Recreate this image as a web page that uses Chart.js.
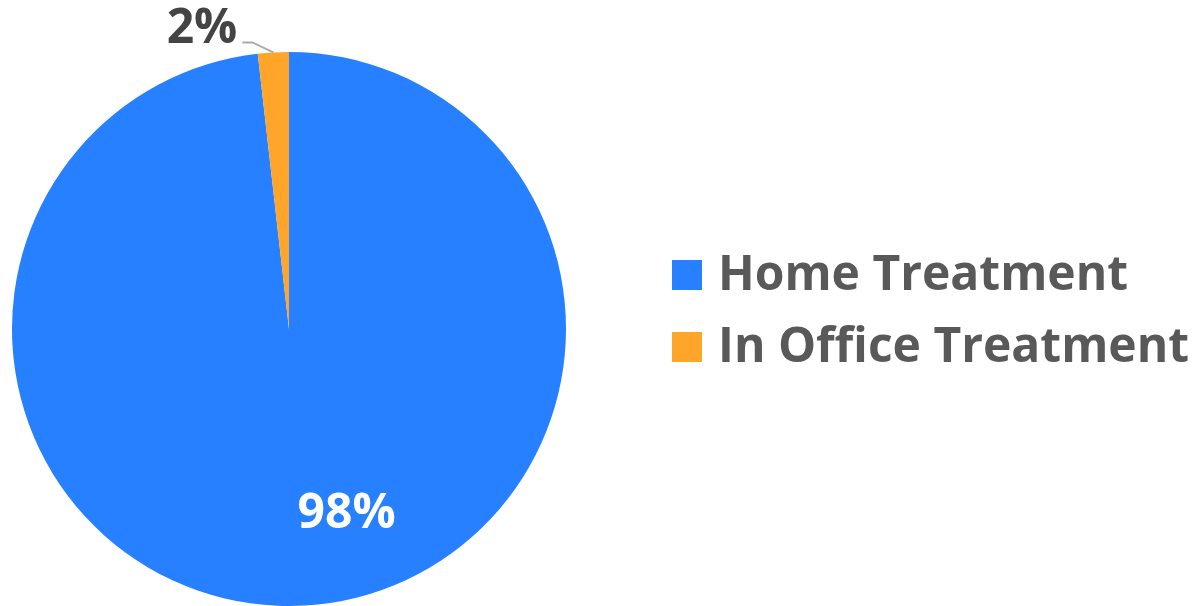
<!DOCTYPE html>
<html>
<head>
<meta charset="utf-8">
<script src="https://cdn.jsdelivr.net/npm/chart.js@4/dist/chart.umd.min.js"></script>
<style>
  html, body { margin: 0; padding: 0; background: #fff; }
  #wrap { width: 1194px; height: 606px; }
</style>
</head>
<body>
<div id="wrap"><canvas id="pie"></canvas></div>
<script>
const labels = ['Home Treatment', 'In Office Treatment']
const values = [98.2, 1.8]
const valueLabels = ['98%', '2%']
const colors = ['#2680FF', '#FFA52A']

const FONT = "'Open Sans', sans-serif"

// slice labels: big slice inside (white), small slice outside with a leader line
const sliceLabels = {
    id: 'sliceLabels',
    afterDatasetsDraw(chart) {
        const ctx = chart.ctx
        const arcs = chart.getDatasetMeta(0).data
        ctx.save()
        ctx.font = 'bold 48px ' + FONT
        arcs.forEach((arc, i) => {
            const p = arc.getProps(['x', 'y', 'startAngle', 'endAngle', 'outerRadius'], true)
            const mid = (p.startAngle + p.endAngle) / 2
            if (values[i] > 10) {
                const a = mid - 0.245
                const r = p.outerRadius * 0.70
                ctx.fillStyle = '#ffffff'
                ctx.textAlign = 'center'
                ctx.textBaseline = 'middle'
                ctx.fillText(valueLabels[i], p.x + Math.cos(a) * r, p.y + Math.sin(a) * r)
            } else {
                const x0 = p.x + Math.cos(mid) * p.outerRadius
                const y0 = p.y + Math.sin(mid) * p.outerRadius
                const x1 = x0 - 21, y1 = y0 - 10
                const x2 = x1 - 10
                ctx.strokeStyle = '#aaaaaa'
                ctx.lineWidth = 2
                ctx.beginPath()
                ctx.moveTo(x0, y0)
                ctx.lineTo(x1, y1)
                ctx.lineTo(x2, y1)
                ctx.stroke()
                ctx.fillStyle = '#444444'
                ctx.textAlign = 'right'
                ctx.textBaseline = 'alphabetic'
                ctx.fillText(valueLabels[i], x2 - 5, y1 + 1)
            }
        })
        ctx.restore()
    }
}

// legend on the right, drawn from chart data
const sideLegend = {
    id: 'sideLegend',
    afterDraw(chart) {
        const ctx = chart.ctx
        const ds = chart.data.datasets[0]
        const left = chart.chartArea.right + 106
        ctx.save()
        ctx.font = 'bold 48px ' + FONT
        ctx.textAlign = 'left'
        ctx.textBaseline = 'alphabetic'
        chart.data.labels.forEach((lab, i) => {
            const base = 290 + i * 72
            ctx.fillStyle = ds.backgroundColor[i]
            ctx.fillRect(left, base - 30, 30, 30)
            ctx.fillStyle = '#595959'
            ctx.fillText(lab, left + 46, base)
        })
        ctx.restore()
    }
}

new Chart(document.getElementById('pie'), {
    type: 'pie',
    data: {
        labels: labels,
        datasets: [{
            data: values,
            backgroundColor: colors,
            borderWidth: 0
        }]
    },
    options: {
        responsive: true,
        maintainAspectRatio: false,
        animation: false,
        layout: { padding: { left: 12, top: 52, right: 628, bottom: 0 } },
        plugins: {
            legend: { display: false },
            tooltip: { enabled: false }
        }
    },
    plugins: [sliceLabels, sideLegend]
});
</script>
</body>
</html>
